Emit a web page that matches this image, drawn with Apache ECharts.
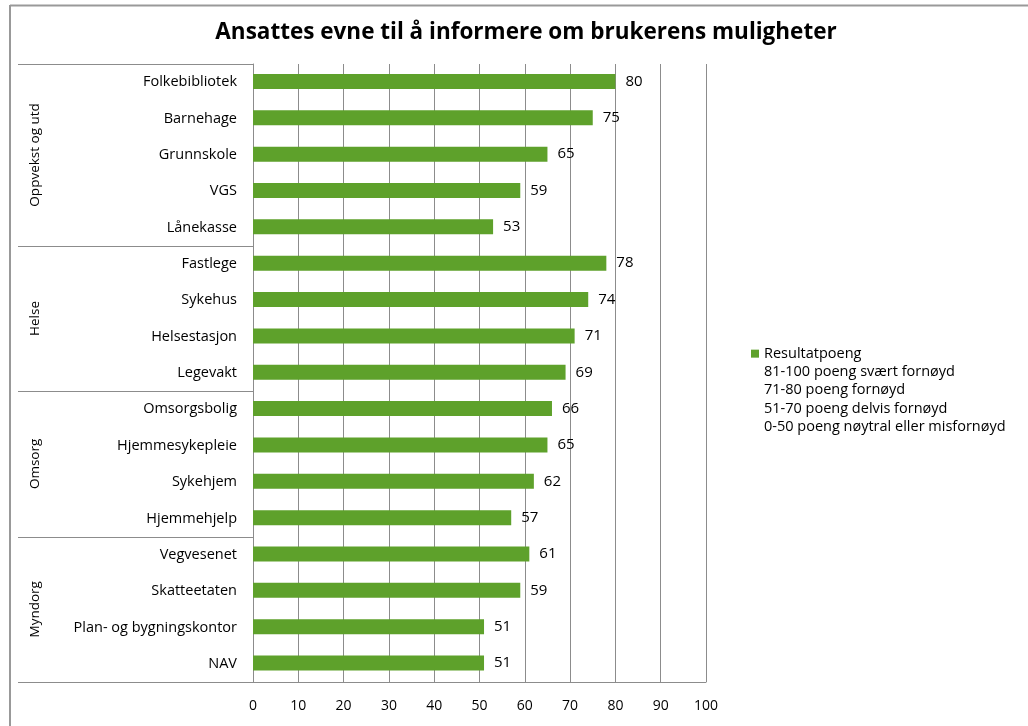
<!DOCTYPE html>
<html lang="no">
<head>
<meta charset="UTF-8">
<title>Ansattes evne til å informere om brukerens muligheter</title>
<script src="https://cdn.jsdelivr.net/npm/echarts@6/dist/echarts.min.js"></script>
<style>
  html, body { margin: 0; padding: 0; background: #fff; }
  #main { width: 1028px; height: 726px; }
</style>
</head>
<body>
<div id="main"></div>
<script type="text/javascript">
// data
var categories = ['Folkebibliotek', 'Barnehage', 'Grunnskole', 'VGS', 'Lånekasse',
  'Fastlege', 'Sykehus', 'Helsestasjon', 'Legevakt',
  'Omsorgsbolig', 'Hjemmesykepleie', 'Sykehjem', 'Hjemmehjelp',
  'Vegvesenet', 'Skatteetaten', 'Plan- og bygningskontor', 'NAV'];
var scores = [80, 75, 65, 59, 53, 78, 74, 71, 69, 66, 65, 62, 57, 61, 59, 51, 51];
var groups = ['Oppvekst og utd', 'Helse', 'Omsorg', 'Myndorg'];
var groupSizes = [5, 4, 4, 4];
var xTicks = [0, 10, 20, 30, 40, 50, 60, 70, 80, 90, 100];
var legendLines = ['Resultatpoeng', '81-100 poeng svært fornøyd', '71-80 poeng fornøyd',
  '51-70 poeng delvis fornøyd', '0-50 poeng nøytral eller misfornøyd'];

var font = '"Open Sans", "DejaVu Sans", sans-serif';
var gridColor = '#8c8c8c';
var green = '#5ea12b';

var myChart = echarts.init(document.getElementById('main'));

// dummy series so the extra legend lines show up without a marker
var extraSeries = legendLines.slice(1).map(function (n) {
  return { name: n, type: 'bar', data: [] };
});

myChart.setOption({
  animation: false,
  title: {
    text: 'Ansattes evne til å informere om brukerens muligheter',
    left: 521, top: 16, textAlign: 'center',
    textStyle: { fontFamily: font, fontSize: 22.5, fontWeight: 'bold', color: '#000' }
  },
  legend: {
    orient: 'vertical', left: 746, top: 340,
    itemWidth: 8, itemHeight: 8, itemGap: 1,
    textStyle: { fontFamily: font, fontSize: 14.5, color: '#000', lineHeight: 17.3 },
    selectedMode: false,
    data: legendLines.map(function (n, i) {
      return i === 0 ? { name: n, icon: 'rect' }
        : { name: n, icon: 'rect', itemStyle: { color: 'rgba(0,0,0,0)', borderWidth: 0 } };
    })
  },
  grid: { left: 253, right: 322, top: 64, bottom: 44 },
  xAxis: {
    type: 'value', min: xTicks[0], max: xTicks[xTicks.length - 1], interval: 10,
    axisLine: { show: true, lineStyle: { color: gridColor, width: 1 } },
    axisTick: { show: false },
    splitLine: { show: true, lineStyle: { color: gridColor, width: 1 } },
    axisLabel: { color: '#000', fontFamily: font, fontSize: 14, margin: 17 }
  },
  yAxis: {
    type: 'category', inverse: true, data: categories,
    axisLine: { show: true, lineStyle: { color: gridColor, width: 1 } },
    axisTick: { show: false },
    axisLabel: { color: '#000', fontFamily: font, fontSize: 14.5, margin: 16, interval: 0 }
  },
  series: [{
    name: legendLines[0], type: 'bar', data: scores, barWidth: 15,
    itemStyle: { color: green },
    label: { show: true, position: 'right', distance: 10, color: '#000',
      fontFamily: font, fontSize: 15 }
  }].concat(extraSeries)
});

// multi-level category labels and outer frame
var grid = myChart.getModel().getComponent('grid').coordinateSystem.getRect();
var band = grid.height / categories.length;
var boxLeft = 18;
var g = [];
function hLine(x1, x2, y) {
  g.push({ type: 'line', silent: true,
    shape: { x1: x1, y1: y, x2: x2, y2: y },
    style: { stroke: gridColor, lineWidth: 1 } });
}
// chart frame (top and left edges)
g.push({ type: 'line', silent: true, shape: { x1: 10, y1: 5.5, x2: 1030, y2: 5.5 },
  style: { stroke: '#999', lineWidth: 2 } });
g.push({ type: 'line', silent: true, shape: { x1: 10, y1: 5, x2: 10, y2: 730 },
  style: { stroke: '#999', lineWidth: 2 } });

var idx = 0;
hLine(boxLeft, grid.x, Math.round(grid.y) + 0.5);
groups.forEach(function (name, i) {
  var first = myChart.convertToPixel({ yAxisIndex: 0 }, categories[idx]);
  var last = myChart.convertToPixel({ yAxisIndex: 0 }, categories[idx + groupSizes[i] - 1]);
  var yTop = first - band / 2;
  var yBot = last + band / 2;
  hLine(boxLeft, grid.x, Math.round(yBot) + 0.5);
  g.push({ type: 'text', silent: true, x: 35, y: (yTop + yBot) / 2, rotation: Math.PI / 2,
    style: { text: name, fill: '#000', font: '13.5px ' + font, align: 'center', verticalAlign: 'middle' } });
  idx += groupSizes[i];
});
myChart.setOption({ graphic: g });
</script>
</body>
</html>
